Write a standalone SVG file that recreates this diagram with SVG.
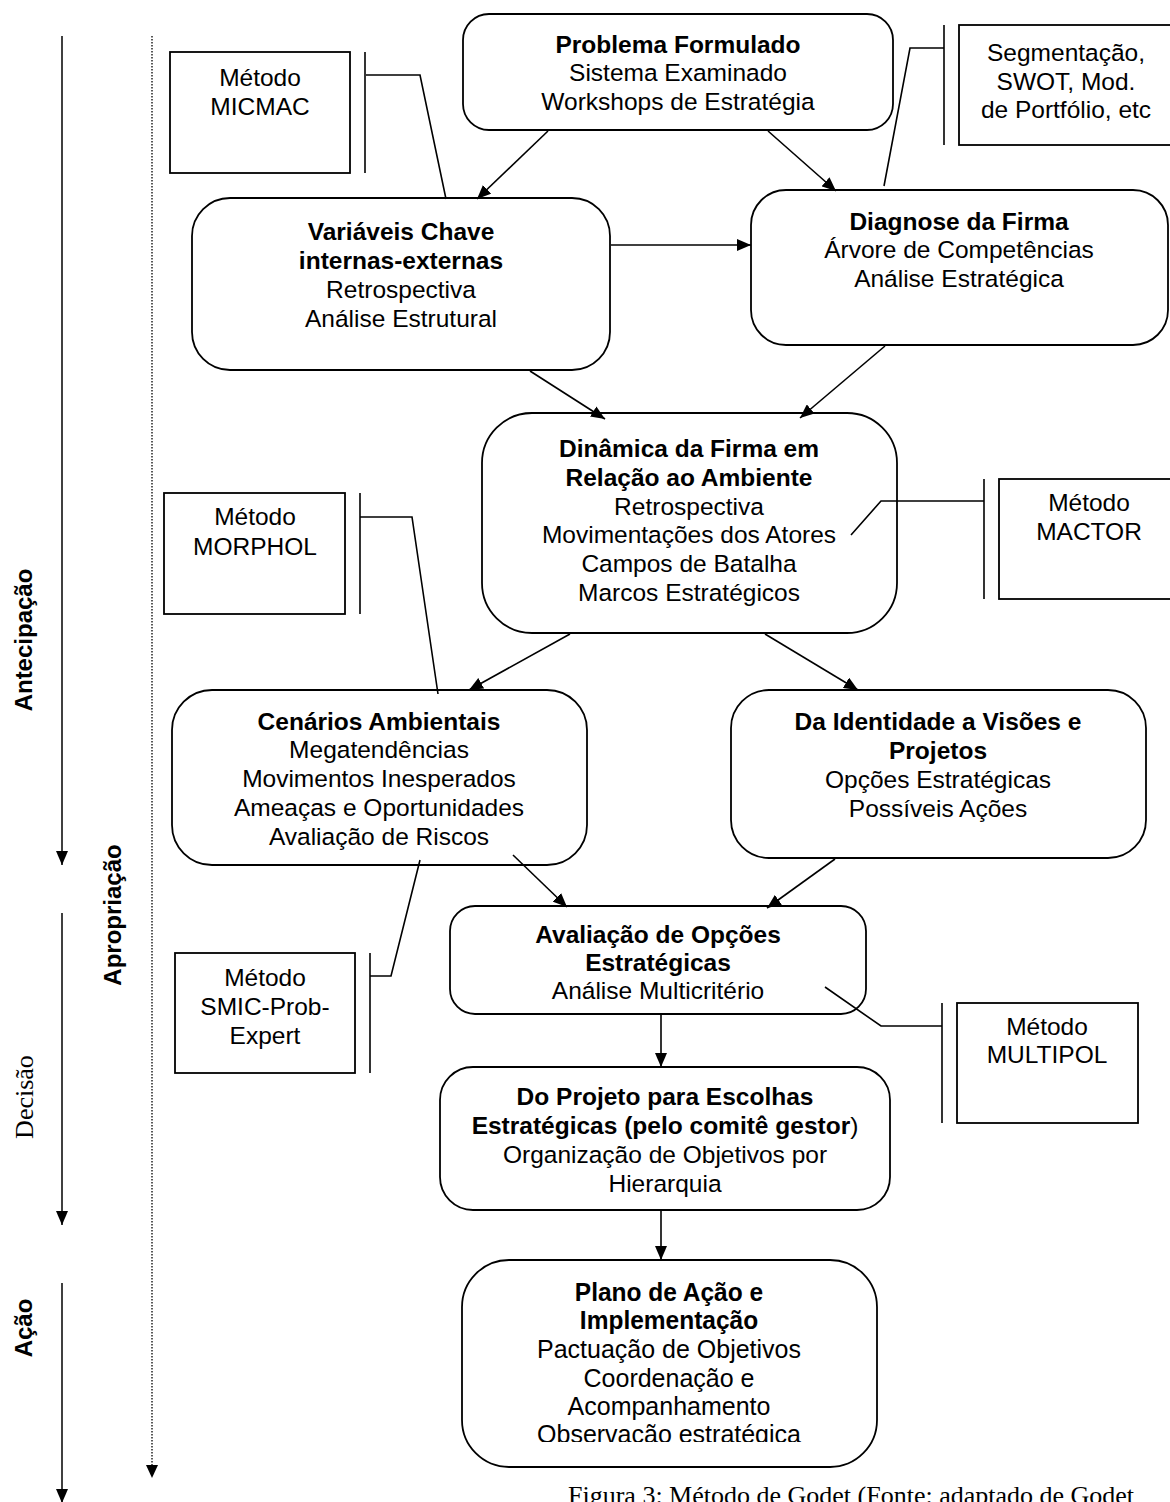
<svg xmlns="http://www.w3.org/2000/svg" width="1170" height="1502" viewBox="0 0 1170 1502">
<defs>
<style>
.n{fill:#fff;stroke:#000;stroke-width:1.8}
.m{fill:#fff;stroke:#000;stroke-width:1.8}
.t{font-family:"Liberation Sans",Arial,sans-serif;font-size:24.5px;text-anchor:middle;fill:#000}
.b{font-weight:bold}
.p{font-size:25px}
.c{fill:none;stroke:#000;stroke-width:1.6}
.a{fill:none;stroke:#000;stroke-width:1.6;marker-end:url(#ah)}
.ax{fill:none;stroke:#000;stroke-width:1.5;marker-end:url(#ah)}
.lab{font-family:"Liberation Sans",Arial,sans-serif;font-size:24px;font-weight:bold;text-anchor:middle;fill:#000}
</style>
<marker id="ah" viewBox="0 0 14 12" refX="14" refY="6" markerWidth="14" markerHeight="12" orient="auto" markerUnits="userSpaceOnUse"><path d="M0,0 L14,6 L0,12 z" fill="#000"/></marker>
<clipPath id="clipPlano"><rect x="440" y="1260" width="460" height="182"/></clipPath>
</defs>
<rect width="1170" height="1502" fill="#fff"/>

<g id="axes">
<line class="ax" x1="62" y1="36" x2="62" y2="865"/>
<line class="ax" x1="62" y1="913" x2="62" y2="1225"/>
<line class="ax" x1="62" y1="1283" x2="62" y2="1503"/>
<line x1="152" y1="36" x2="152" y2="1465" stroke="#000" stroke-width="1.3" stroke-dasharray="1.5 1.5"/>
<path d="M146,1465 L158,1465 L152,1478 z" fill="#000"/>
<text class="lab" transform="translate(32,640) rotate(-90)">Antecipação</text>
<text class="lab" transform="translate(121,915) rotate(-90)">Apropriação</text>
<text transform="translate(33,1097) rotate(-90)" font-family="'Liberation Serif','Times New Roman',serif" font-size="26" text-anchor="middle">Decisão</text>
<text class="lab" transform="translate(32,1328) rotate(-90)">Ação</text>
</g>

<g id="n1">
<rect class="n" x="463" y="14" width="430" height="116" rx="26"/>
<text class="t b" x="678" y="53">Problema Formulado</text>
<text class="t" x="678" y="81">Sistema Examinado</text>
<text class="t" x="678" y="110">Workshops de Estratégia</text>
</g>
<g id="n2">
<rect class="n" x="192" y="198" width="418" height="172" rx="38"/>
<text class="t b" x="401" y="240">Variáveis Chave</text>
<text class="t b" x="401" y="269">internas-externas</text>
<text class="t" x="401" y="298">Retrospectiva</text>
<text class="t" x="401" y="327">Análise Estrutural</text>
</g>
<g id="n3">
<rect class="n" x="751" y="190" width="417" height="155" rx="35"/>
<text class="t b" x="959" y="230">Diagnose da Firma</text>
<text class="t" x="959" y="258">Árvore de Competências</text>
<text class="t" x="959" y="287">Análise Estratégica</text>
</g>
<g id="n4">
<rect class="n" x="482" y="413" width="415" height="220" rx="50"/>
<text class="t b" x="689" y="457">Dinâmica da Firma em</text>
<text class="t b" x="689" y="486">Relação ao Ambiente</text>
<text class="t" x="689" y="515">Retrospectiva</text>
<text class="t" x="689" y="543">Movimentações dos Atores</text>
<text class="t" x="689" y="572">Campos de Batalha</text>
<text class="t" x="689" y="601">Marcos Estratégicos</text>
</g>
<g id="n5">
<rect class="n" x="172" y="690" width="415" height="175" rx="40"/>
<text class="t b" x="379" y="730">Cenários Ambientais</text>
<text class="t" x="379" y="758">Megatendências</text>
<text class="t" x="379" y="787">Movimentos Inesperados</text>
<text class="t" x="379" y="816">Ameaças e Oportunidades</text>
<text class="t" x="379" y="845">Avaliação de Riscos</text>
</g>
<g id="n6">
<rect class="n" x="731" y="690" width="415" height="168" rx="38"/>
<text class="t b" x="938" y="730">Da Identidade a Visões e</text>
<text class="t b" x="938" y="759">Projetos</text>
<text class="t" x="938" y="788">Opções Estratégicas</text>
<text class="t" x="938" y="817">Possíveis Ações</text>
</g>
<g id="n7">
<rect class="n" x="450" y="906" width="416" height="108" rx="25"/>
<text class="t b" x="658" y="943">Avaliação de Opções</text>
<text class="t b" x="658" y="971">Estratégicas</text>
<text class="t" x="658" y="999">Análise Multicritério</text>
</g>
<g id="n8">
<rect class="n" x="440" y="1067" width="450" height="143" rx="33"/>
<text class="t b" x="665" y="1105">Do Projeto para Escolhas</text>
<text class="t" x="665" y="1134"><tspan font-weight="bold">Estratégicas (pelo comitê gestor</tspan>)</text>
<text class="t" x="665" y="1163">Organização de Objetivos por</text>
<text class="t" x="665" y="1192">Hierarquia</text>
</g>
<g id="n9">
<rect class="n" x="462" y="1260" width="415" height="207" rx="47"/>
<g clip-path="url(#clipPlano)">
<text class="t b" transform="translate(669,1301) scale(1,1.06)">Plano de Ação e</text>
<text class="t b" transform="translate(669,1329) scale(1,1.06)">Implementação</text>
<text class="t p" transform="translate(669,1358) scale(1,1.06)">Pactuação de Objetivos</text>
<text class="t p" transform="translate(669,1387) scale(1,1.06)">Coordenação e</text>
<text class="t p" transform="translate(669,1415) scale(1,1.06)">Acompanhamento</text>
<text class="t p" transform="translate(669,1443) scale(1,1.06)">Observação estratégica</text>
</g>
</g>

<g id="m-micmac">
<rect class="m" x="170" y="52" width="180" height="121"/>
<line class="c" x1="365" y1="52" x2="365" y2="173"/>
<text class="t" x="260" y="86">Método</text>
<text class="t" x="260" y="115">MICMAC</text>
</g>
<g id="m-swot">
<rect class="m" x="959" y="25" width="215" height="120"/>
<line class="c" x1="944" y1="25" x2="944" y2="145"/>
<text class="t" x="1066" y="61">Segmentação,</text>
<text class="t" x="1066" y="90">SWOT, Mod.</text>
<text class="t" x="1066" y="118">de Portfólio, etc</text>
</g>
<g id="m-mactor">
<rect class="m" x="999" y="479" width="180" height="120"/>
<line class="c" x1="984" y1="479" x2="984" y2="599"/>
<text class="t" x="1089" y="511">Método</text>
<text class="t" x="1089" y="540">MACTOR</text>
</g>
<g id="m-morphol">
<rect class="m" x="164" y="493" width="181" height="121"/>
<line class="c" x1="360" y1="493" x2="360" y2="614"/>
<text class="t" x="255" y="525">Método</text>
<text class="t" x="255" y="555">MORPHOL</text>
</g>
<g id="m-smic">
<rect class="m" x="175" y="953" width="180" height="120"/>
<line class="c" x1="370" y1="953" x2="370" y2="1073"/>
<text class="t" x="265" y="986">Método</text>
<text class="t" x="265" y="1015">SMIC-Prob-</text>
<text class="t" x="265" y="1044">Expert</text>
</g>
<g id="m-multipol">
<rect class="m" x="957" y="1003" width="181" height="120"/>
<line class="c" x1="942" y1="1003" x2="942" y2="1123"/>
<text class="t" x="1047" y="1035">Método</text>
<text class="t" x="1047" y="1063">MULTIPOL</text>
</g>

<g id="connectors">
<line class="a" x1="548" y1="131" x2="477" y2="199"/>
<line class="a" x1="768" y1="131" x2="836" y2="191"/>
<line class="a" x1="611" y1="245" x2="751" y2="245"/>
<line class="a" x1="530" y1="371" x2="605" y2="419"/>
<line class="a" x1="885" y1="346" x2="800" y2="418"/>
<line class="a" x1="570" y1="634" x2="469" y2="690"/>
<line class="a" x1="765" y1="634" x2="858" y2="690"/>
<line class="a" x1="513" y1="855" x2="567" y2="907"/>
<line class="a" x1="835" y1="859" x2="767" y2="908"/>
<line class="a" x1="661" y1="1015" x2="661" y2="1067"/>
<line class="a" x1="661" y1="1211" x2="661" y2="1260"/>
<polyline class="c" points="366,75 420,75 446,199"/>
<polyline class="c" points="944,48 910,48 884,186"/>
<polyline class="c" points="984,501 881,501 851,535"/>
<polyline class="c" points="360,517 412,517 438,694"/>
<polyline class="c" points="370,976 391,976 420,860"/>
<polyline class="c" points="942,1026 881,1026 825,987"/>
</g>

<text x="568" y="1504" font-family="'Liberation Serif','Times New Roman',serif" font-size="26" fill="#000">Figura 3: Método de Godet (Fonte: adaptado de Godet</text>
</svg>
